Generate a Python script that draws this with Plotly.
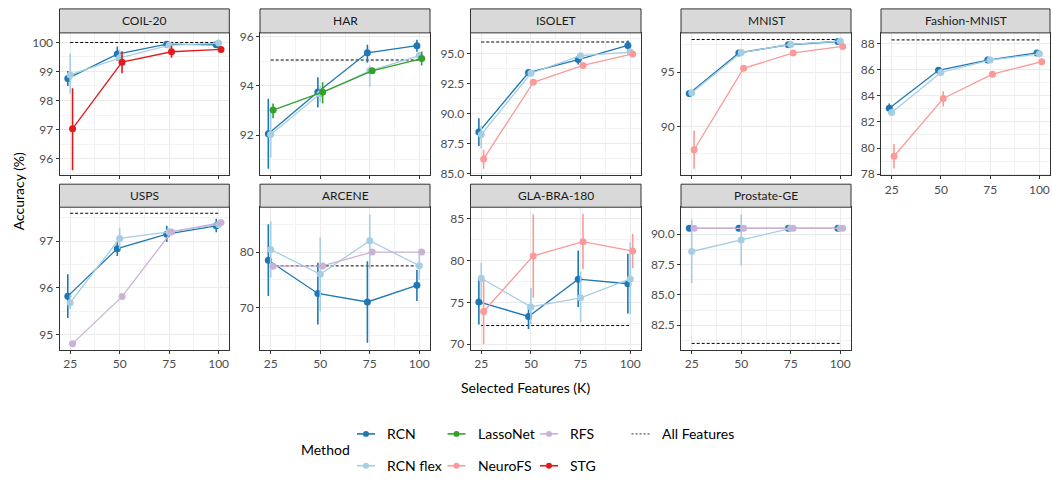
import plotly.graph_objects as go

W, H = 1052, 483
K = [25, 50, 75, 100]
METHODS = ["RCN", "RCN flex", "LassoNet", "NeuroFS", "RFS", "STG"]
COLORS = {"RCN": "#1F78B4", "RCN flex": "#A6CEE3", "LassoNet": "#33A02C",
          "NeuroFS": "#FB9A99", "RFS": "#CAB2D6", "STG": "#E31A1C"}

# method -> (mean, lower, upper) accuracy (%) for K = 25, 50, 75, 100
COIL20 = {
    "RCN":      ([98.76, 99.60, 99.94, 99.92], [98.50, 99.36, 99.86, 99.85], [99.02, 99.86, 100.0, 99.99]),
    "RCN flex": ([98.88, 99.47, 99.90, 99.98], [98.23, 99.24, 99.84, 99.94], [99.61, 99.75, 99.96, 100.02]),
    "STG":      ([97.03, 99.32, 99.68, 99.76], [95.60, 98.94, 99.47, 99.68], [98.42, 99.70, 99.89, 99.84]),
}
HAR = {
    "RCN":      ([92.06, 93.75, 95.34, 95.63], [90.64, 93.12, 94.94, 95.38], [93.48, 94.35, 95.67, 95.87]),
    "RCN flex": ([92.03, 93.68, 94.61, 95.23], [91.10, 93.35, 93.95, 95.13], [92.90, 94.00, 94.81, 95.33]),
    "LassoNet": ([93.02, 93.75, 94.61, 95.11], [92.69, 93.29, 94.51, 94.83], [93.29, 94.15, 94.71, 95.40]),
}
ISOLET = {
    "RCN":      ([88.48, 93.45, 94.53, 95.71], [87.31, 93.25, 94.13, 95.35], [89.63, 93.65, 94.95, 96.12]),
    "RCN flex": ([88.27, 93.39, 94.86, 95.16], [87.10, 93.25, 94.70, 95.05], [89.00, 93.55, 95.00, 95.27]),
    "NeuroFS":  ([86.23, 92.63, 94.04, 95.00], [85.41, 92.50, 93.90, 94.90], [86.99, 92.76, 94.18, 95.10]),
}
MNIST = {
    "RCN":      ([93.05, 96.77, 97.52, 97.82], [92.85, 96.62, 97.42, 97.74], [93.25, 96.92, 97.62, 97.90]),
    "RCN flex": ([93.12, 96.80, 97.55, 97.85], [93.00, 96.70, 97.47, 97.78], [93.24, 96.90, 97.63, 97.92]),
    "NeuroFS":  ([87.88, 95.36, 96.77, 97.37], [86.14, 95.20, 96.67, 97.27], [89.64, 95.52, 96.87, 97.47]),
}
FASHION = {
    "RCN":      ([83.05, 85.97, 86.75, 87.30], [82.67, 85.80, 86.62, 87.18], [83.42, 86.12, 86.88, 87.42]),
    "RCN flex": ([82.73, 85.80, 86.75, 87.23], [82.55, 85.65, 86.63, 87.12], [82.91, 85.95, 86.87, 87.34]),
    "NeuroFS":  ([79.37, 83.80, 85.67, 86.63], [78.43, 83.18, 85.55, 86.53], [80.30, 84.35, 85.79, 86.73]),
}
USPS = {
    "RCN":      ([95.82, 96.84, 97.15, 97.33], [95.35, 96.68, 96.98, 97.19], [96.29, 96.99, 97.33, 97.48]),
    "RCN flex": ([95.68, 97.06, 97.20, 97.36], [95.55, 96.84, 97.12, 97.28], [95.85, 97.29, 97.28, 97.44]),
    "RFS":      ([94.80, 95.81, 97.20, 97.40], [94.77, 95.78, 97.17, 97.37], [94.83, 95.84, 97.23, 97.43]),
}
ARCENE = {
    "RCN":      ([78.52, 72.53, 71.00, 74.00], [72.06, 66.95, 63.65, 71.18], [84.99, 78.06, 78.35, 76.76]),
    "RCN flex": ([80.46, 76.00, 82.05, 77.53], [75.41, 69.29, 77.05, 75.00], [85.57, 82.65, 86.75, 80.00]),
    "RFS":      ([77.46, 77.50, 80.00, 80.00], [77.40, 77.44, 79.94, 79.94], [77.52, 77.56, 80.06, 80.06]),
}
GLABRA = {
    "RCN":      ([75.04, 73.31, 77.77, 77.22], [72.34, 71.82, 74.45, 73.66], [77.69, 74.75, 81.20, 80.81]),
    "RCN flex": ([77.88, 74.45, 75.54, 77.80], [75.30, 72.41, 72.61, 73.58], [79.72, 76.71, 78.67, 82.19]),
    "NeuroFS":  ([73.90, 80.55, 82.26, 81.13], [70.00, 75.54, 78.97, 79.06], [77.70, 85.50, 85.59, 83.16]),
}
PROSTATE = {
    "RCN":      ([90.48, 90.48, 90.48, 90.48], [90.45, 90.45, 90.45, 90.45], [90.51, 90.51, 90.51, 90.51]),
    "RCN flex": ([88.57, 89.52, 90.48, 90.48], [85.97, 87.40, 90.45, 90.45], [91.21, 91.61, 90.51, 90.51]),
    "RFS":      ([90.48, 90.48, 90.48, 90.48], [90.45, 90.45, 90.45, 90.45], [90.51, 90.51, 90.51, 90.51]),
}
ALL_FEATURES = {"COIL-20": 100.0, "HAR": 95.05, "ISOLET": 96.0, "MNIST": 98.0,
                "Fashion-MNIST": 88.3, "USPS": 97.6, "ARCENE": 77.5,
                "GLA-BRA-180": 72.22, "Prostate-GE": 81.0}

# layout (pixel positions)
COLS = [(59.5, 229.3), (260, 430), (470.5, 641), (681, 851), (881, 1050)]
ROWS = [((5, 29.5), (29.5, 175)), ((184, 207.5), (207.5, 353))]
XRANGE = [19.6, 105.4]
DODGE = 1.2

PANELS = [
    # name, data, row, col, yrange, tick0, dtick, fmt, show x labels
    ("COIL-20", COIL20, 0, 0, [95.42, 100.33], 96, 1, "", False),
    ("HAR", HAR, 0, 1, [90.37, 96.15], 92, 2, "", False),
    ("ISOLET", ISOLET, 0, 2, [84.86, 96.76], 85, 2.5, ".1f", False),
    ("MNIST", MNIST, 0, 3, [85.53, 98.61], 90, 5, "", False),
    ("Fashion-MNIST", FASHION, 0, 4, [77.9, 88.84], 78, 2, "", True),
    ("USPS", USPS, 1, 0, [94.67, 97.73], 95, 1, "", True),
    ("ARCENE", ARCENE, 1, 1, [62.4, 88.08], 70, 10, "", True),
    ("GLA-BRA-180", GLABRA, 1, 2, [69.33, 86.38], 70, 5, "", True),
    ("Prostate-GE", PROSTATE, 1, 3, [80.48, 92.22], 82.5, 2.5, ".1f", True),
]

FONT = "Lato, 'DejaVu Sans', sans-serif"


def px_x(p):
    return p / W


def px_y(p):
    return 1 - p / H


fig = go.Figure()
layout = {}
shapes = []
annotations = []

for i, (name, data, r, c, yr, t0, dt, fmt, showx) in enumerate(PANELS):
    n = i + 1
    xa = "x" if n == 1 else f"x{n}"
    ya = "y" if n == 1 else f"y{n}"
    (sy0, sy1), (py0, py1) = ROWS[r]
    cx0, cx1 = COLS[c]
    grid = dict(showgrid=True, gridcolor="#EBEBEB", gridwidth=1)
    layout["xaxis" if n == 1 else f"xaxis{n}"] = dict(
        domain=[px_x(cx0), px_x(cx1)], anchor=ya, range=XRANGE,
        tickmode="array", tickvals=K, showticklabels=showx,
        ticks="outside", ticklen=3, tickcolor="#333333",
        tickfont=dict(size=12, color="#4D4D4D", family=FONT),
        showline=True, linecolor="#333333", linewidth=1, mirror=True,
        zeroline=False,
        minor=dict(tickmode="array", tickvals=[37.5, 62.5, 87.5], showgrid=True,
                   gridcolor="#F2F2F2", gridwidth=0.6, ticks=""),
        **grid)
    layout["yaxis" if n == 1 else f"yaxis{n}"] = dict(
        domain=[px_y(py1), px_y(py0)], anchor=xa, range=yr,
        tickmode="linear", tick0=t0, dtick=dt, tickformat=fmt,
        ticks="outside", ticklen=3, tickcolor="#333333",
        tickfont=dict(size=12, color="#4D4D4D", family=FONT),
        showline=True, linecolor="#333333", linewidth=1, mirror=True,
        zeroline=False,
        minor=dict(tickmode="linear", tick0=t0, dtick=dt / 2, showgrid=True,
                   gridcolor="#F2F2F2", gridwidth=0.6, ticks=""),
        **grid)
    # strip
    shapes.append(dict(type="rect", xref="paper", yref="paper",
                       x0=px_x(cx0), x1=px_x(cx1), y0=px_y(sy1), y1=px_y(sy0),
                       fillcolor="#D9D9D9", line=dict(color="#333333", width=1)))
    annotations.append(dict(text=name, xref="paper", yref="paper",
                            x=px_x((cx0 + cx1) / 2), y=px_y((sy0 + sy1) / 2),
                            xanchor="center", yanchor="middle", showarrow=False,
                            font=dict(size=12, color="#1A1A1A", family=FONT)))
    # all features reference line
    af = ALL_FEATURES[name]
    fig.add_trace(go.Scatter(x=[K[0], K[-1]], y=[af, af], mode="lines",
                             line=dict(color="black", width=1, dash="3px,2px"),
                             xaxis=xa, yaxis=ya, showlegend=False, hoverinfo="skip"))
    present = [m for m in METHODS if m in data]
    for j, m in enumerate(present):
        mean, lo, hi = data[m]
        off = (j - (len(present) - 1) / 2) * DODGE
        xs = [k + off for k in K]
        fig.add_trace(go.Scatter(
            x=xs, y=mean, mode="lines+markers", xaxis=xa, yaxis=ya,
            line=dict(color=COLORS[m], width=1.3),
            marker=dict(color=COLORS[m], size=7),
            error_y=dict(type="data", symmetric=False,
                         array=[h - v for h, v in zip(hi, mean)],
                         arrayminus=[v - l for v, l in zip(mean, lo)],
                         width=0, thickness=1.6, color=COLORS[m]),
            showlegend=False, name=m))

# axis titles
annotations.append(dict(text="Accuracy (%)", xref="paper", yref="paper",
                        x=px_x(18), y=px_y((29.5 + 353) / 2), textangle=-90,
                        xanchor="center", yanchor="middle", showarrow=False,
                        font=dict(size=14, color="black", family=FONT)))
annotations.append(dict(text="Selected Features (K)", xref="paper", yref="paper",
                        x=px_x(525), y=px_y(392), xanchor="center", yanchor="middle",
                        showarrow=False, font=dict(size=14, color="black", family=FONT)))

# legend (manual, ggplot-style grid)
LEG = [("RCN", 0, 0), ("RCN flex", 0, 1), ("LassoNet", 1, 0), ("NeuroFS", 1, 1),
       ("RFS", 2, 0), ("STG", 2, 1), ("All Features", 3, 0)]
LCOL = [357, 447.5, 540, 631.5]
LROW = [439, 471.5]
annotations.append(dict(text="Method", xref="paper", yref="paper",
                        x=px_x(299), y=px_y(455), xanchor="left", yanchor="middle",
                        showarrow=False, font=dict(size=14, color="black", family=FONT)))
for lab, lc, lr in LEG:
    x0 = LCOL[lc]
    x1 = x0 + 18
    yy = LROW[lr]
    if lab == "All Features":
        shapes.append(dict(type="line", xref="paper", yref="paper",
                           x0=px_x(x0), x1=px_x(x1), y0=px_y(yy), y1=px_y(yy),
                           line=dict(color="#333333", width=1, dash="2px,2px")))
    else:
        col = COLORS[lab]
        shapes.append(dict(type="line", xref="paper", yref="paper",
                           x0=px_x(x0), x1=px_x(x1), y0=px_y(yy), y1=px_y(yy),
                           line=dict(color=col, width=1.6)))
        rr = 3
        cx = (x0 + x1) / 2
        shapes.append(dict(type="circle", xref="paper", yref="paper",
                           x0=px_x(cx - rr), x1=px_x(cx + rr),
                           y0=px_y(yy + rr), y1=px_y(yy - rr),
                           fillcolor=col, line=dict(color=col, width=0)))
    annotations.append(dict(text=lab, xref="paper", yref="paper",
                            x=px_x(x1 + 10), y=px_y(yy), xanchor="left", yanchor="middle",
                            showarrow=False, font=dict(size=14, color="black", family=FONT)))

fig.update_layout(width=W, height=H, margin=dict(l=0, r=0, t=0, b=0),
                  paper_bgcolor="white", plot_bgcolor="white",
                  shapes=shapes, annotations=annotations, showlegend=False,
                  font=dict(family=FONT), **layout)
fig.write_html("out.html", config={"displayModeBar": False},
               post_script="document.body.style.margin='0';document.body.style.overflow='hidden';")
